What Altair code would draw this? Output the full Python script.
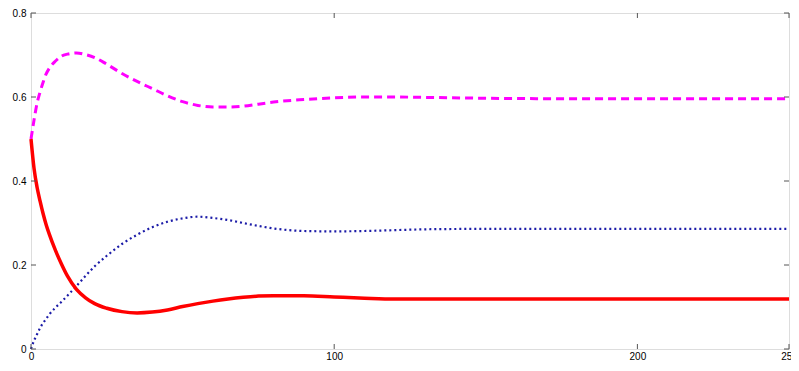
import altair as alt
import pandas as pd

t = [0, 1, 2, 3, 4, 5, 6, 8, 10, 12, 15, 18, 21, 25, 30, 35, 40, 45, 50, 55,
     60, 65, 70, 75, 80, 90, 100, 110, 120, 130, 150, 175, 200, 225, 250]
magenta = [0.50, 0.545, 0.585, 0.612, 0.635, 0.655, 0.668, 0.685, 0.697, 0.702,
           0.705, 0.701, 0.694, 0.678, 0.656, 0.637, 0.620, 0.603, 0.589, 0.580,
           0.576, 0.576, 0.578, 0.583, 0.588, 0.594, 0.598, 0.600, 0.600, 0.599,
           0.597, 0.596, 0.596, 0.596, 0.596]
red = [0.50, 0.43, 0.385, 0.352, 0.322, 0.296, 0.274, 0.236, 0.203, 0.174,
       0.142, 0.122, 0.108, 0.097, 0.089, 0.086, 0.088, 0.093, 0.101, 0.108,
       0.114, 0.119, 0.123, 0.126, 0.127, 0.127, 0.124, 0.121, 0.119, 0.119,
       0.119, 0.119, 0.119, 0.119, 0.119]
blue = [0.0, 0.02, 0.035, 0.05, 0.062, 0.072, 0.082, 0.098, 0.112, 0.127,
        0.150, 0.174, 0.197, 0.222, 0.250, 0.272, 0.290, 0.303, 0.311, 0.315,
        0.312, 0.307, 0.300, 0.293, 0.287, 0.281, 0.280, 0.281, 0.283, 0.285,
        0.286, 0.286, 0.286, 0.286, 0.286]

x_ticks = [0, 100, 200, 250]
y_ticks = [0, 0.2, 0.4, 0.6, 0.8]

W, H = 758, 336
TICK = 5
TICK_COLOR = "#555555"

df = pd.DataFrame({"t": t, "magenta": magenta, "red": red, "blue": blue})
xt = pd.DataFrame({"v": x_ticks})
yt = pd.DataFrame({"v": y_ticks})

xs = alt.Scale(domain=[0, 250], nice=False, zero=False)
ys = alt.Scale(domain=[0, 0.8], nice=False, zero=False)

x_axis = alt.Axis(values=x_ticks, format="d", ticks=False, tickSize=0, domain=False,
                  grid=False, labelPadding=2, title=None, labelFlush=False)
y_axis = alt.Axis(values=y_ticks, format=".1~f", ticks=False, tickSize=0, domain=False,
                  grid=False, labelPadding=5, title=None, labelFlush=False)

base = alt.Chart(df)

line_m = base.mark_line(color="#ff00ff", strokeWidth=3, strokeDash=[8, 5],
                        interpolate="monotone").encode(
    x=alt.X("t:Q", scale=xs, axis=x_axis),
    y=alt.Y("magenta:Q", scale=ys, axis=y_axis),
)
line_b = base.mark_line(color="#1c1ca8", strokeWidth=2.2, strokeDash=[2, 3],
                        interpolate="monotone").encode(
    x=alt.X("t:Q", scale=xs),
    y=alt.Y("blue:Q", scale=ys),
)
line_r = base.mark_line(color="#ff0000", strokeWidth=3.5,
                        interpolate="monotone").encode(
    x=alt.X("t:Q", scale=xs),
    y=alt.Y("red:Q", scale=ys),
)

tick_bottom = alt.Chart(xt).mark_rule(color=TICK_COLOR, strokeWidth=1).encode(
    x=alt.X("v:Q", scale=xs), y=alt.value(H), y2=alt.value(H - TICK))
tick_top = alt.Chart(xt).mark_rule(color=TICK_COLOR, strokeWidth=1).encode(
    x=alt.X("v:Q", scale=xs), y=alt.value(0), y2=alt.value(TICK))
tick_left = alt.Chart(yt).mark_rule(color=TICK_COLOR, strokeWidth=1).encode(
    y=alt.Y("v:Q", scale=ys), x=alt.value(0), x2=alt.value(TICK))
tick_right = alt.Chart(yt).mark_rule(color=TICK_COLOR, strokeWidth=1).encode(
    y=alt.Y("v:Q", scale=ys), x=alt.value(W), x2=alt.value(W - TICK))

chart = alt.layer(
    line_m, line_b, line_r, tick_bottom, tick_top, tick_left, tick_right
).properties(
    width=W, height=H,
    autosize=alt.AutoSizeParams(type="none"),
    padding={"left": 23, "top": 5, "right": 2, "bottom": 14},
).configure_view(
    stroke="#808080", strokeWidth=1.2
).configure_axis(
    labelFont="Liberation Sans", labelFontSize=11, labelColor="#333333"
).configure(background="white")

chart.save("out.html", embed_options={"renderer": "svg", "actions": False})
